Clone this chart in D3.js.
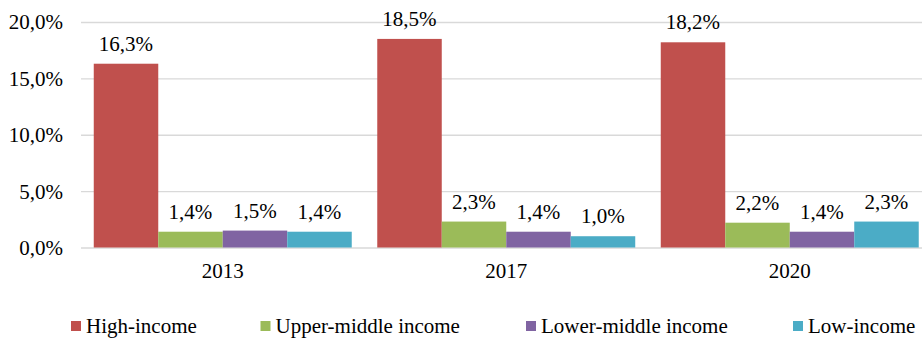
<!DOCTYPE html>
<html>
<head>
<meta charset="utf-8">
<script src="https://cdn.jsdelivr.net/npm/d3@7/dist/d3.min.js"></script>
<style>
  html, body { margin: 0; padding: 0; background: #fff; }
  svg text { font-family: "Liberation Serif", serif !important; }
</style>
</head>
<body>
<svg id="chart" width="922" height="338"></svg>
<script>
// Share of income groups, by year
const years = ["2013", "2017", "2020"];
const seriesNames = ["High-income", "Upper-middle income", "Lower-middle income", "Low-income"];
const highIncome = [16.3, 18.5, 18.2];
const upperMiddle = [1.4, 2.3, 2.2];
const lowerMiddle = [1.5, 1.4, 1.4];
const lowIncome = [1.4, 1.0, 2.3];
const yTicks = [0, 5, 10, 15, 20];
const colors = ["#c0504d", "#9bbb59", "#8064a2", "#4bacc6"];

const seriesValues = [highIncome, upperMiddle, lowerMiddle, lowIncome];
const fmt = v => v.toFixed(1).replace(".", ",") + "%";

const svg = d3.select("#chart");
const plot = { left: 81, right: 931.5, top: 22, bottom: 247.5 };

const x0 = d3.scaleBand()
  .domain(years)
  .range([plot.left, plot.right])
  .paddingInner(0.09)
  .paddingOuter(0.045);

const x1 = d3.scaleBand()
  .domain(seriesNames)
  .range([0, x0.bandwidth()]);

const y = d3.scaleLinear().domain([0, 20]).range([plot.bottom, plot.top]);

// Gridlines and y-axis labels
const yAxis = d3.axisLeft(y)
  .tickValues(yTicks)
  .tickSize(-(plot.right - plot.left))
  .tickPadding(18)
  .tickFormat(fmt);

const gy = svg.append("g")
  .attr("transform", `translate(${plot.left},0)`)
  .call(yAxis)
  .attr("font-family", null);
gy.select(".domain").remove();
gy.selectAll(".tick line").attr("stroke", "#d9d9d9").attr("stroke-width", 1.3);
gy.selectAll(".tick text")
  .attr("fill", "#000")
  .style("font-size", "21px")
  .attr("dy", "0.33em");

// Bars
const groups = svg.append("g").selectAll("g")
  .data(years)
  .join("g")
  .attr("transform", d => `translate(${x0(d)},0)`);

groups.selectAll("rect")
  .data((d, i) => seriesNames.map((s, j) => ({ s, v: seriesValues[j][i], c: colors[j] })))
  .join("rect")
  .attr("x", d => x1(d.s))
  .attr("width", x1.bandwidth())
  .attr("y", d => y(d.v))
  .attr("height", d => y(0) - y(d.v))
  .attr("fill", d => d.c);

// Value labels
groups.selectAll("text")
  .data((d, i) => seriesNames.map((s, j) => ({ s, v: seriesValues[j][i] })))
  .join("text")
  .attr("x", d => x1(d.s) + x1.bandwidth() / 2)
  .attr("y", d => y(d.v) - 13)
  .attr("text-anchor", "middle")
  .style("font-size", "21px")
  .attr("fill", "#000")
  .text(d => fmt(d.v));

// Category axis labels
const xAxis = d3.axisBottom(x0).tickSize(0).tickPadding(16);
const gx = svg.append("g")
  .attr("transform", `translate(0,${plot.bottom})`)
  .call(xAxis)
  .attr("font-family", null);
gx.select(".domain").remove();
gx.selectAll(".tick text")
  .attr("fill", "#000")
  .style("font-size", "21px");

// Legend
const legendX = [71, 260.5, 526, 793];
const legend = svg.append("g").selectAll("g")
  .data(seriesNames)
  .join("g")
  .attr("transform", (d, i) => `translate(${legendX[i]},0)`);
legend.append("rect")
  .attr("x", 0).attr("y", 321)
  .attr("width", 10).attr("height", 10)
  .attr("fill", (d, i) => colors[i]);
legend.append("text")
  .attr("x", 15).attr("y", 333)
  .style("font-size", "21px")
  .attr("fill", "#000")
  .text(d => d);
</script>
</body>
</html>
